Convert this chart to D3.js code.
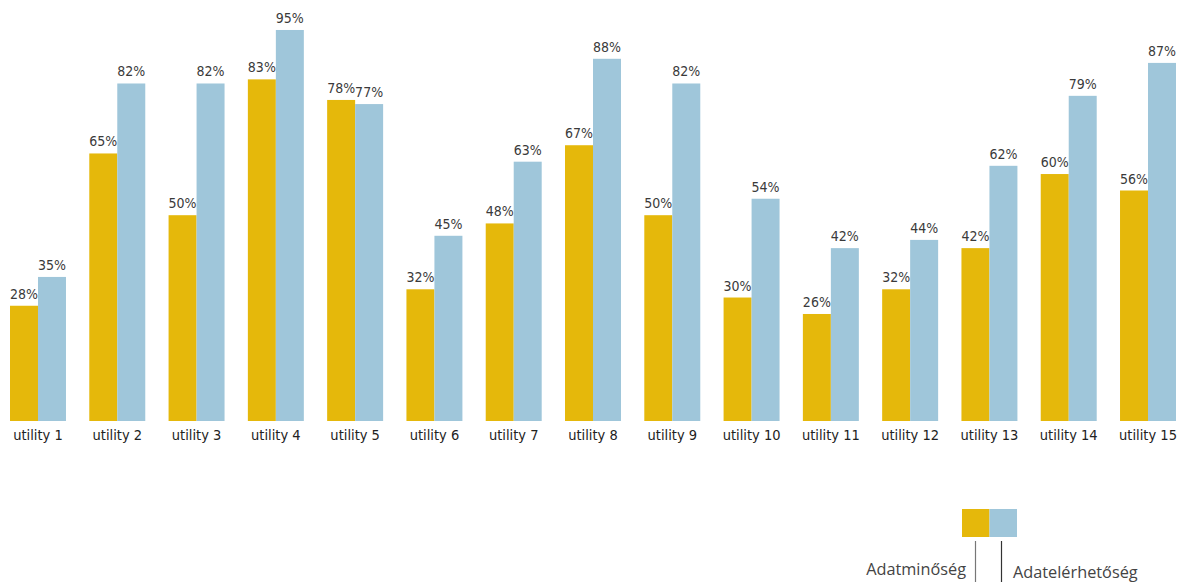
<!DOCTYPE html>
<html><head><meta charset="utf-8">
<script src="https://cdn.jsdelivr.net/npm/d3@7"></script>
<style>
body{margin:0;background:#fff;}
svg{display:block;}
</style></head>
<body>
<svg id="c" width="1177" height="582"></svg>
<script>
const categories = ["utility 1","utility 2","utility 3","utility 4","utility 5","utility 6","utility 7","utility 8","utility 9","utility 10","utility 11","utility 12","utility 13","utility 14","utility 15"];
const seriesNames = ["Adatminőség","Adatelérhetőség"];
const adatminoseg = [28,65,50,83,78,32,48,67,50,30,26,32,42,60,56];
const adatelerhetoseg = [35,82,82,95,77,45,63,88,82,54,42,44,62,79,87];
const colors = ["#E5B80B","#9FC6DA"];

const svg = d3.select("#c");
const condensed = "'DejaVu Sans Condensed','Liberation Sans Narrow',sans-serif";
const baseY = 421;
const x = d3.scaleBand().domain(categories).range([10, 1176]).paddingInner(0.294).paddingOuter(0);
const x1 = d3.scaleBand().domain([0,1]).range([0, x.bandwidth()]);
const y = d3.scaleLinear().domain([0,100]).range([baseY, baseY - 411.6]);

const data = categories.map((c,i)=>({c, v:[adatminoseg[i], adatelerhetoseg[i]]}));
const g = svg.selectAll("g.grp").data(data).join("g").attr("class","grp")
  .attr("transform", d=>`translate(${x(d.c)},0)`);
g.selectAll("rect").data(d=>d.v.map((v,k)=>({v,k}))).join("rect")
  .attr("x", d=>x1(d.k)).attr("width", x1.bandwidth())
  .attr("y", d=>y(d.v)).attr("height", d=>baseY - y(d.v))
  .attr("fill", d=>colors[d.k]);
g.selectAll("text.val").data(d=>d.v.map((v,k)=>({v,k}))).join("text").attr("class","val")
  .attr("x", d=>x1(d.k)+x1.bandwidth()/2).attr("y", d=>y(d.v)-7)
  .attr("text-anchor","middle").attr("font-family",condensed).attr("font-stretch","condensed").attr("font-size",14)
  .attr("fill","#3a3a3a").text(d=>d.v+"%");

const axis = d3.axisBottom(x).tickSize(0).tickPadding(9);
const ax = svg.append("g").attr("transform",`translate(0,${baseY})`).call(axis);
ax.select(".domain").remove();
ax.selectAll("text").attr("font-family",condensed).attr("font-stretch","condensed").attr("font-size",14.5).attr("fill","#222");

// legend
const lx = 962, ly = 509, sw = 27.5, sh = 28;
const leg = svg.append("g");
seriesNames.forEach((n,k)=>{
  leg.append("rect").attr("x", lx + k*sw).attr("y", ly).attr("width", sw).attr("height", sh).attr("fill", colors[k]);
});
leg.append("line").attr("x1",975.5).attr("x2",975.5).attr("y1",541).attr("y2",582).attr("stroke","#777").attr("stroke-width",1.2);
leg.append("line").attr("x1",1001.5).attr("x2",1001.5).attr("y1",541).attr("y2",582).attr("stroke","#333").attr("stroke-width",1.2);
leg.append("text").attr("x",966).attr("y",575).attr("text-anchor","end").attr("font-family","'Open Sans',sans-serif").attr("font-size",16.3).attr("fill","#444").text(seriesNames[0]);
leg.append("text").attr("x",1013).attr("y",578).attr("text-anchor","start").attr("font-family","'Open Sans',sans-serif").attr("font-size",16.3).attr("fill","#444").text(seriesNames[1]);
</script>
</body></html>
